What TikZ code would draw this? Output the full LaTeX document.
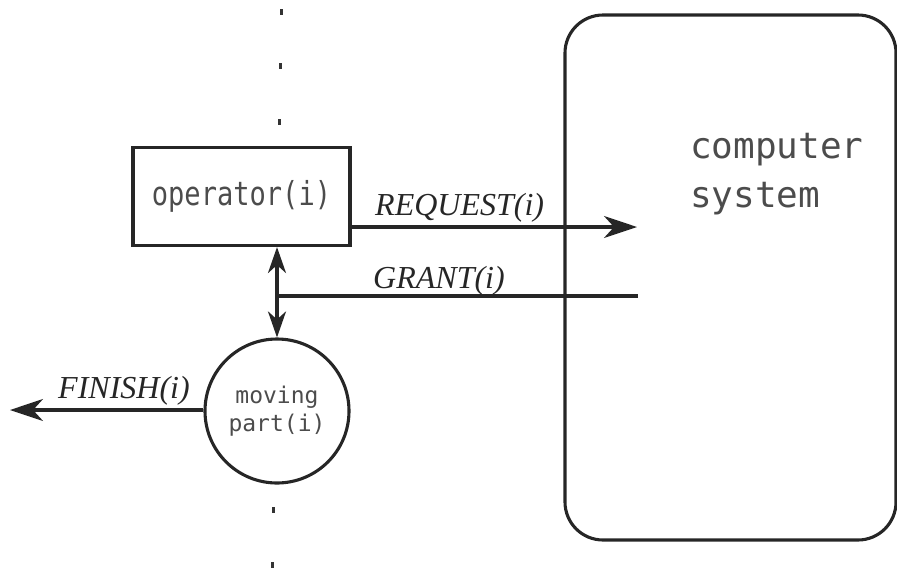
\documentclass[tikz,border=0pt]{standalone}
\usepackage{fontspec}
\usepackage{graphicx}
\setmainfont{Liberation Serif}
\newfontfamily\plotfont{DejaVu Sans Mono}
\usetikzlibrary{arrows.meta}
\tikzset{
  ink/.style={draw=black!85, line width=3.1pt},
  boxnode/.style={ink, rectangle, minimum width=217pt, minimum height=98pt, inner sep=0pt},
  partnode/.style={ink, circle, minimum size=144pt, inner sep=0pt, align=center, text=black!70,
    font=\plotfont\fontsize{23}{28}\selectfont},
  sysnode/.style={ink, rectangle, rounded corners=38pt, minimum width=331pt, minimum height=525pt},
  systext/.style={anchor=base west, align=left, text=black!70, font=\plotfont\fontsize{36}{49}\selectfont, inner sep=0pt},
  sig/.style={anchor=base west, inner sep=0pt, text=black!85, font=\itshape\fontsize{32}{38}\selectfont},
  dotmark/.style={rectangle, fill=black!80, minimum width=3pt, minimum height=6pt, inner sep=0pt},
  arr/.style={draw=black!85, line width=3.1pt, -{Stealth[length=33pt,width=22pt,inset=10pt]}},
  dblarr/.style={draw=black!85, line width=3.1pt, {Stealth[length=26pt,width=18pt,inset=8pt]}-{Stealth[length=26pt,width=18pt,inset=8pt]}},
  plain/.style={draw=black!85, line width=3.1pt}
}
\begin{document}
\begin{tikzpicture}[x=1pt,y=-1pt]
\useasboundingbox (0,0) rectangle (897,574);
% vertical dotted boundary
\node[dotmark] (d1) at (281,12) {};
\node[dotmark] (d2) at (280,66) {};
\node[dotmark] (d3) at (279,122) {};
\node[dotmark] (d4) at (273,510) {};
\node[dotmark] (d5) at (272,565) {};
% main nodes
\node[boxnode, text=black!70] (op) at (241.5,196.5) {\plotfont\fontsize{33}{38}\selectfont\scalebox{0.82}[1]{operator(i)}};
\node[partnode] (mp) at (277,411) {moving\\part(i)};
\node[sysnode] (cs) at (730.5,277.5) {};
\node[systext] (cst) at (690,207) {computer\\system};
% connector ends
\coordinate (reqend) at (637,227);
\coordinate (grantend) at (638,296);
\coordinate (finend) at (10,410);
% connectors
\draw[arr] (op.east |- reqend) -- (reqend);
\draw[plain] (grantend) -- (grantend -| mp.north);
\draw[dblarr] (op.south -| mp.north) -- (mp.north);
\draw[arr] (mp.west |- finend) -- (finend);
% labels
\node[sig] (lreq) at (375,215) {REQUEST(i)};
\node[sig] (lgrant) at (373,288) {GRANT(i)};
\node[sig] (lfin) at (58,398) {FINISH(i)};
\end{tikzpicture}
\end{document}
